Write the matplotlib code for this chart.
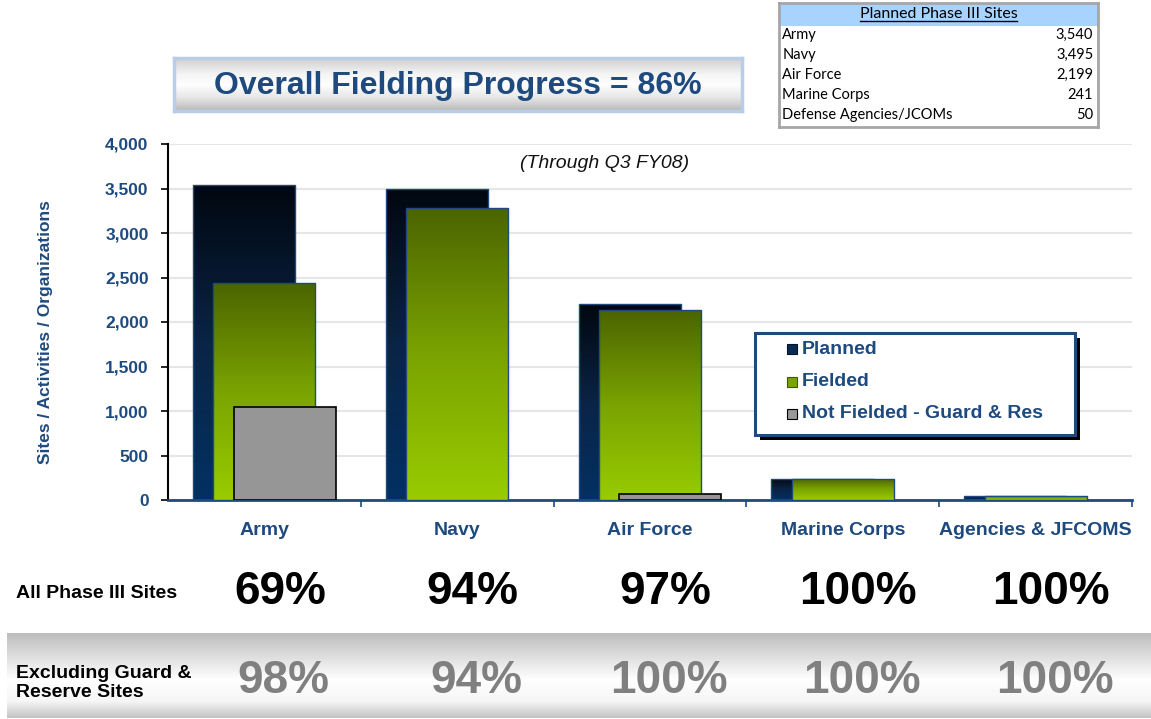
import numpy as np
import matplotlib
matplotlib.use('Agg')
import matplotlib.pyplot as plt
from matplotlib.colors import LinearSegmentedColormap
from matplotlib.patches import Rectangle
import matplotlib.transforms as mtrans

plt.rcParams['font.family'] = ['Liberation Sans', 'DejaVu Sans']

# data
categories = ['Army', 'Navy', 'Air Force', 'Marine Corps', 'Agencies & JFCOMS']
planned = [3540, 3495, 2199, 241, 50]
fielded = [2443, 3285, 2133, 241, 50]
not_fielded_gr = [1047, 0, 66, 0, 0]
pct_all = ['69%', '94%', '97%', '100%', '100%']
pct_excl = ['98%', '94%', '100%', '100%', '100%']
table_rows = ['Army', 'Navy', 'Air Force', 'Marine Corps', 'Defense Agencies/JCOMs']
table_vals = ['3,540', '3,495', '2,199', '241', '50']
legend_labels = ['Planned', 'Fielded', 'Not Fielded - Guard & Res']

navy = '#1f4a7e'
W, H = 1151, 719


def fx(px):
    return px / W


def fy(py):
    return 1 - py / H


cm_plan = LinearSegmentedColormap.from_list('plan', ['#01070f', '#0a2446', '#033163'])
cm_field = LinearSegmentedColormap.from_list('field', ['#4b6400', '#7aa300', '#99cc00'])
grad = np.linspace(0, 1, 256).reshape(-1, 1)

fig = plt.figure(figsize=(11.51, 7.19), dpi=100)
ax = fig.add_axes([fx(168), fy(500), (1132 - 168) / W, (500 - 144) / H])

x = np.arange(len(categories))
bw = 0.53
off = 0.105


def grad_bars(bars, cmap, z):
    for p in bars:
        if p.get_height() <= 0:
            continue
        x0, y0 = p.get_x(), p.get_y()
        im = ax.imshow(grad, cmap=cmap, aspect='auto', zorder=z - 0.01,
                       extent=(x0, x0 + p.get_width(), y0, y0 + p.get_height()))
        im.set_clip_path(p)
        p.set_facecolor('none')


b1 = ax.bar(x - off, planned, bw, edgecolor=navy, linewidth=1, zorder=2)
grad_bars(b1, cm_plan, 2)
b2 = ax.bar(x, fielded, bw, edgecolor=navy, linewidth=1, zorder=3)
grad_bars(b2, cm_field, 3)
ng = np.array(not_fielded_gr)
mask = ng > 0
ax.bar(x[mask] + off, ng[mask], bw, color='#969696', edgecolor='black',
       linewidth=1.2, zorder=4)

ax.set_xlim(-0.5, len(categories) - 0.5)
ax.set_ylim(0, 4000)
ax.set_yticks(np.arange(0, 4001, 500))
ax.set_yticklabels([f'{v:,}' for v in range(0, 4001, 500)], fontsize=12.5,
                   fontweight='bold', color=navy)
ax.tick_params(axis='y', length=5, width=1.2, pad=9, color='black')
ax.yaxis.grid(True, color='#e6e6e6', linewidth=1.5)
ax.set_axisbelow(True)

ax.set_xticks(x + 0.5)
ax.set_xticklabels([])
ax.set_xticks(x, minor=True)
ax.set_xticklabels(categories, minor=True, fontsize=14, fontweight='bold', color=navy)
ax.tick_params(axis='x', which='major', length=5, width=1.2, color=navy)
ax.tick_params(axis='x', which='minor', length=0, pad=16)

for s in ['top', 'right']:
    ax.spines[s].set_visible(False)
ax.spines['left'].set_color('black')
ax.spines['left'].set_linewidth(1.5)
ax.spines['bottom'].set_color(navy)
ax.spines['bottom'].set_linewidth(2)

ax.set_ylabel('Sites / Activities / Organizations', fontsize=12.5,
              fontweight='bold', color=navy)
ax.yaxis.set_label_coords(-0.119, 0.472)

ax.text(0.453, 0.944, '(Through Q3 FY08)', transform=ax.transAxes, fontsize=14,
        style='italic', ha='center', va='center', color='#111111')

# legend drawn by hand
lx0, ly0, lx1, ly1 = 755, 333, 1075, 435
fig.patches.append(Rectangle((fx(lx0 + 5), fy(ly1 + 5)), (lx1 - lx0) / W, (ly1 - ly0) / H,
                             transform=fig.transFigure, facecolor='black', zorder=5))
fig.patches.append(Rectangle((fx(lx0), fy(ly1)), (lx1 - lx0) / W, (ly1 - ly0) / H,
                             transform=fig.transFigure, facecolor='white',
                             edgecolor=navy, linewidth=2.2, zorder=6))
leg_face = ['#0b2a52', '#7aa500', '#999999']
leg_edge = ['#04152b', '#3f5a00', 'black']
for i, lab in enumerate(legend_labels):
    yc = 349 + i * 32.5
    fig.patches.append(Rectangle((fx(787), fy(yc + 5)), 10 / W, 10 / H,
                                 transform=fig.transFigure, facecolor=leg_face[i],
                                 edgecolor=leg_edge[i], linewidth=0.8, zorder=7))
    fig.text(fx(802), fy(yc), lab, fontsize=14, fontweight='bold', color=navy,
             ha='left', va='center', zorder=8)

# title box
tax = fig.add_axes([fx(174), fy(111), (742 - 174) / W, (111 - 58) / H])
cm_title = LinearSegmentedColormap.from_list(
    't', [(0, '#cfcfcf'), (0.3, '#f4f4f4'), (0.5, '#ffffff'), (0.75, '#e6e6e6'), (1, '#b8b8b8')])
tax.imshow(grad, cmap=cm_title, aspect='auto', extent=(0, 1, 0, 1))
tax.set_xticks([])
tax.set_yticks([])
for s in tax.spines.values():
    s.set_color('#b9cde8')
    s.set_linewidth(2.5)
tax.text(0.5, 0.47, 'Overall Fielding Progress = 86%', fontsize=23, fontweight='bold',
         color=navy, ha='center', va='center', transform=tax.transAxes)

# planned sites table
tb_h = 124
tb = fig.add_axes([fx(779), fy(127), (1098 - 779) / W, tb_h / H])
tb.set_xlim(0, 1)
tb.set_ylim(0, 1)
tb.set_xticks([])
tb.set_yticks([])
for s in tb.spines.values():
    s.set_color('#a6a6a6')
    s.set_linewidth(2)
hh = 23 / tb_h
rh = 20 / tb_h
tb.add_patch(Rectangle((0, 1 - hh), 1, hh, facecolor='#a9d3ff', edgecolor='none'))
tfont = ['Lato', 'DejaVu Sans']
hdr = tb.text(0.5, 1 - hh / 2, 'Planned Phase III Sites', fontsize=11.5, family=tfont,
              ha='center', va='center')
for i, (name, val) in enumerate(zip(table_rows, table_vals)):
    yy = 1 - hh - rh * (i + 0.45)
    tb.text(0.01, yy, name, fontsize=10.5, family=tfont, ha='left', va='center')
    tb.text(0.985, yy, val, fontsize=10.5, family=tfont, ha='right', va='center')
fig.canvas.draw()
bb = hdr.get_window_extent().transformed(tb.transData.inverted())
tb.plot([bb.x0, bb.x1], [bb.y0 + 0.005, bb.y0 + 0.005], color='black', lw=1)

# bottom band
band = fig.add_axes([fx(7), fy(718), (W - 7) / W, (718 - 633) / H], zorder=-1)
cm_band = LinearSegmentedColormap.from_list(
    'b', [(0, '#bdbdbd'), (0.55, '#ffffff'), (0.8, '#f6f6f6'), (1, '#c4c4c4')])
band.imshow(grad, cmap=cm_band, aspect='auto', extent=(0, 1, 0, 1))
band.axis('off')

fig.text(fx(16), fy(593), 'All Phase III Sites', fontsize=14, fontweight='bold',
         ha='left', va='center')
fig.text(fx(16), fy(683), 'Excluding Guard &\nReserve Sites', fontsize=14,
         fontweight='bold', ha='left', va='center', linespacing=1.15)

trans = mtrans.blended_transform_factory(ax.transData, fig.transFigure)
for i in range(len(categories)):
    ax.text(x[i] + 0.08, fy(592), pct_all[i], transform=trans, fontsize=33,
            fontweight='bold', color='black', ha='center', va='center', clip_on=False)
    ax.text(x[i] + 0.1, fy(681), pct_excl[i], transform=trans, fontsize=33,
            fontweight='bold', color='#808080', ha='center', va='center', clip_on=False)

fig.savefig('out.png', dpi=100)
